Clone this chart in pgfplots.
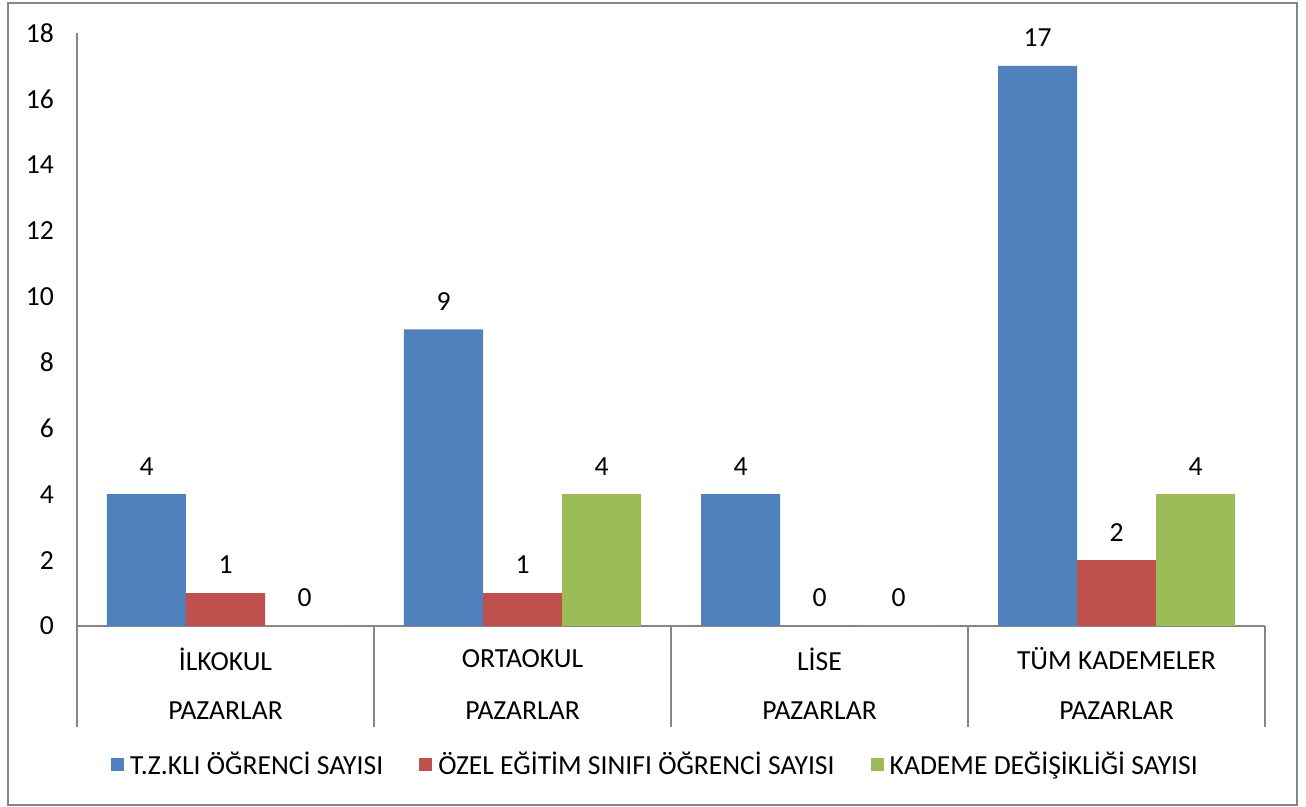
\documentclass[border=0pt]{standalone}
\usepackage{pgfplots}
\pgfplotsset{compat=1.18}
\usepackage{fontspec}
\setmainfont{Carlito}
\definecolor{cblue}{RGB}{79,129,189}
\definecolor{cred}{RGB}{192,80,77}
\definecolor{cgreen}{RGB}{155,187,89}
\definecolor{axgray}{RGB}{134,134,134}
\newcommand{\tf}{\fontsize{13.8pt}{16pt}\selectfont}
\begin{document}
\begin{tikzpicture}
\useasboundingbox (-38.5pt,-90.5pt) rectangle (614.5pt,313pt);
\draw[axgray, line width=1pt] (-34.5pt,-89.5pt) rectangle (610pt,311.5pt);
\begin{axis}[
  at={(0pt,0pt)}, anchor=south west,
  scale only axis, width=594pt, height=296.5pt,
  xmin=-0.5, xmax=3.5, ymin=0, ymax=18,
  axis x line*=bottom, axis y line*=left,
  axis line style={axgray, line width=1pt},
  ytick={0,2,...,18}, xtick=\empty,
  major tick length=0pt,
  /pgf/number format/assume math mode=true,
  yticklabel style={font=\tf, xshift=-8pt, text=black},
  ybar, bar width=39.5pt,
  nodes near coords,
  every node near coord/.append style={font=\tf, anchor=center, yshift=14pt, text=black},
  clip=false,
  legend columns=3,
  legend image code/.code={\fill[#1] (0pt,-3.25pt) rectangle (6.5pt,3.25pt);},
  legend style={at={(0.487,0)}, anchor=center, yshift=-69.5pt, draw=none,
    font=\tf, nodes={inner sep=1pt},
    /tikz/every odd column/.append style={column sep=2pt},
    /tikz/every even column/.append style={column sep=17pt}},
]
\addplot[fill=cblue, draw=none, bar shift=-39.5pt] coordinates {(0,4) (1,9) (2,4) (3,17)};
\addplot[fill=cred, draw=none, bar shift=0pt] coordinates {(0,1) (1,1) (2,0) (3,2)};
\addplot[fill=cgreen, draw=none, bar shift=39.5pt] coordinates {(0,0) (1,4) (2,0) (3,4)};
\legend{T.Z.KLI ÖĞRENCİ SAYISI, ÖZEL EĞİTİM SINIFI ÖĞRENCİ SAYISI, KADEME DEĞİŞİKLİĞİ SAYISI}
\pgfplotsinvokeforeach{-0.5,0.5,1.5,2.5,3.5}{
  \draw[axgray, line width=1pt] (axis cs:#1,0) -- ([yshift=-50.5pt]axis cs:#1,0);
}
\node[font=\tf] at ([yshift=-16.5pt]axis cs:0,0) {İLKOKUL};
\node[font=\tf] at ([yshift=-16.5pt]axis cs:1,0) {ORTAOKUL};
\node[font=\tf] at ([yshift=-16.5pt]axis cs:2,0) {LİSE};
\node[font=\tf] at ([yshift=-16.5pt]axis cs:3,0) {TÜM KADEMELER};
\pgfplotsinvokeforeach{0,1,2,3}{
  \node[font=\tf] at ([yshift=-42.5pt]axis cs:#1,0) {PAZARLAR};
}
\end{axis}
\end{tikzpicture}
\end{document}
